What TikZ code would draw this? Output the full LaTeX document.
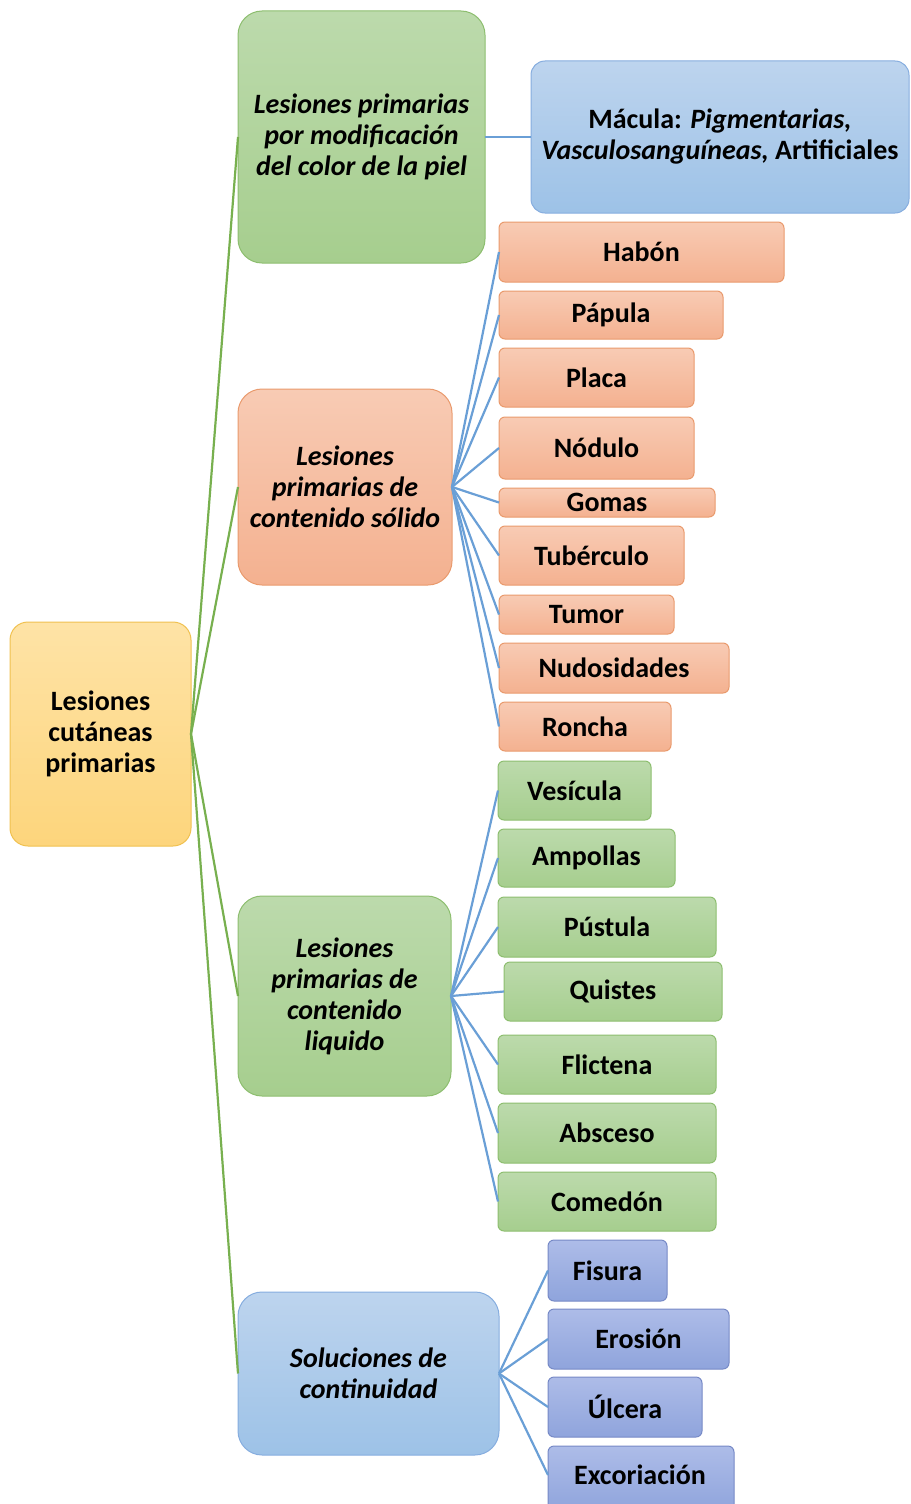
\documentclass[tikz,border=0pt]{standalone}
\usepackage{fontspec}
\setmainfont{Carlito}
\definecolor{yelT}{HTML}{FEE3A6}\definecolor{yelB}{HTML}{FDD57C}\definecolor{yelD}{HTML}{F0C150}
\definecolor{greT}{HTML}{BCDAAC}\definecolor{greB}{HTML}{A6CE8E}\definecolor{greD}{HTML}{8DBE6F}
\definecolor{bluT}{HTML}{BDD4EE}\definecolor{bluB}{HTML}{9DC2E7}\definecolor{bluD}{HTML}{86ADDF}
\definecolor{oraT}{HTML}{F8CBB4}\definecolor{oraB}{HTML}{F4B190}\definecolor{oraD}{HTML}{E99A6D}
\definecolor{purT}{HTML}{ADBCE8}\definecolor{purB}{HTML}{8FA4DC}\definecolor{purD}{HTML}{7689C6}
\definecolor{lnG}{HTML}{78B04F}\definecolor{lnB}{HTML}{6A9FD6}
\tikzset{
  base/.style={inner sep=0pt, outer sep=0pt, line width=1pt, align=center,
    font=\fontsize{28}{31}\selectfont\bfseries},
  yel/.style={base, rounded corners=18pt, top color=yelT, bottom color=yelB, draw=yelD},
  gre/.style={base, top color=greT, bottom color=greB, draw=greD},
  blu/.style={base, top color=bluT, bottom color=bluB, draw=bluD},
  ora/.style={base, top color=oraT, bottom color=oraB, draw=oraD},
  pur/.style={base, top color=purT, bottom color=purB, draw=purD},
  grp/.style={rounded corners=24pt, font=\fontsize{28}{31}\selectfont\bfseries\itshape},
  leaf/.style={rounded corners=6pt},
  gline/.style={draw=lnG, line width=2.2pt},
  bline/.style={draw=lnB, line width=2.2pt},
}
\newcommand\bx[7]{\node[#6, minimum width={#4pt-#2pt}, minimum height={#5pt-#3pt}]
  (#1) at ({(#2+#4)/2},{(#3+#5)/2}) {#7};}
\begin{document}
\begin{tikzpicture}[x=1pt,y=-1pt]
\useasboundingbox (0,0) rectangle (910,1504);
% root
\bx{root}{10}{622}{191}{846}{yel}{Lesiones\\cutáneas\\primarias}
% groups
\bx{g1}{238}{11}{485}{263}{gre,grp}{Lesiones primarias\\por modificación\\del color de la piel}
\bx{g2}{238}{389}{452}{585}{ora,grp}{Lesiones\\primarias de\\contenido sólido}
\bx{g3}{238}{896}{451}{1096}{gre,grp}{Lesiones\\primarias de\\contenido\\liquido}
\bx{g4}{238}{1292}{499}{1455}{blu,grp}{Soluciones de\\continuidad}
% macula
\bx{mac}{531}{61}{909}{213}{blu,leaf,rounded corners=14pt}{Mácula: \textit{Pigmentarias,}\\\textit{Vasculosanguíneas,} Artificiales}
% solid
\bx{s1}{499}{222}{784}{282}{ora,leaf}{Habón}
\bx{s2}{499}{291}{723}{339}{ora,leaf}{Pápula}
\bx{s3}{499}{348}{694}{407}{ora,leaf}{Placa}
\bx{s4}{499}{417}{694}{479}{ora,leaf}{Nódulo}
\bx{s5}{499}{488}{715}{517}{ora,leaf}{Gomas}
\bx{s6}{499}{526}{684}{585}{ora,leaf}{Tubérculo}
\bx{s7}{499}{595}{674}{634}{ora,leaf}{Tumor}
\bx{s8}{499}{643}{729}{693}{ora,leaf}{Nudosidades}
\bx{s9}{499}{702}{671}{751}{ora,leaf}{Roncha}
% liquid
\bx{l1}{498}{761}{651}{820}{gre,leaf}{Vesícula}
\bx{l2}{498}{829}{675}{887}{gre,leaf}{Ampollas}
\bx{l3}{498}{897}{716}{957}{gre,leaf}{Pústula}
\bx{l4}{504}{962}{722}{1021}{gre,leaf}{Quistes}
\bx{l5}{498}{1035}{716}{1094}{gre,leaf}{Flictena}
\bx{l6}{498}{1103}{716}{1163}{gre,leaf}{Absceso}
\bx{l7}{498}{1172}{716}{1231}{gre,leaf}{Comedón}
% solutions
\bx{u1}{548}{1240}{667}{1301}{pur,leaf}{Fisura}
\bx{u2}{548}{1309}{729}{1369}{pur,leaf}{Erosión}
\bx{u3}{548}{1377}{702}{1437}{pur,leaf}{Úlcera}
\node[pur,leaf,minimum width=186pt,minimum height=66pt,anchor=north west] (u4) at (548,1446) {};
\node[base] (u4t) at (640,1475) {Excoriación};
% connectors
\foreach \g in {g1,g2,g3,g4} \draw[gline] (root.east) -- (\g.west);
\draw[bline] (g1.east) -- (mac.west);
\foreach \c in {s1,s2,s3,s4,s5,s6,s7,s8,s9} \draw[bline] (g2.east) -- (\c.west);
\foreach \c in {l1,l2,l3,l4,l5,l6,l7} \draw[bline] (g3.east) -- (\c.west);
\foreach \c in {u1,u2,u3} \draw[bline] (g4.east) -- (\c.west);
\draw[bline] (g4.east) -- (u4.west |- u4t.center);
\end{tikzpicture}
\end{document}
